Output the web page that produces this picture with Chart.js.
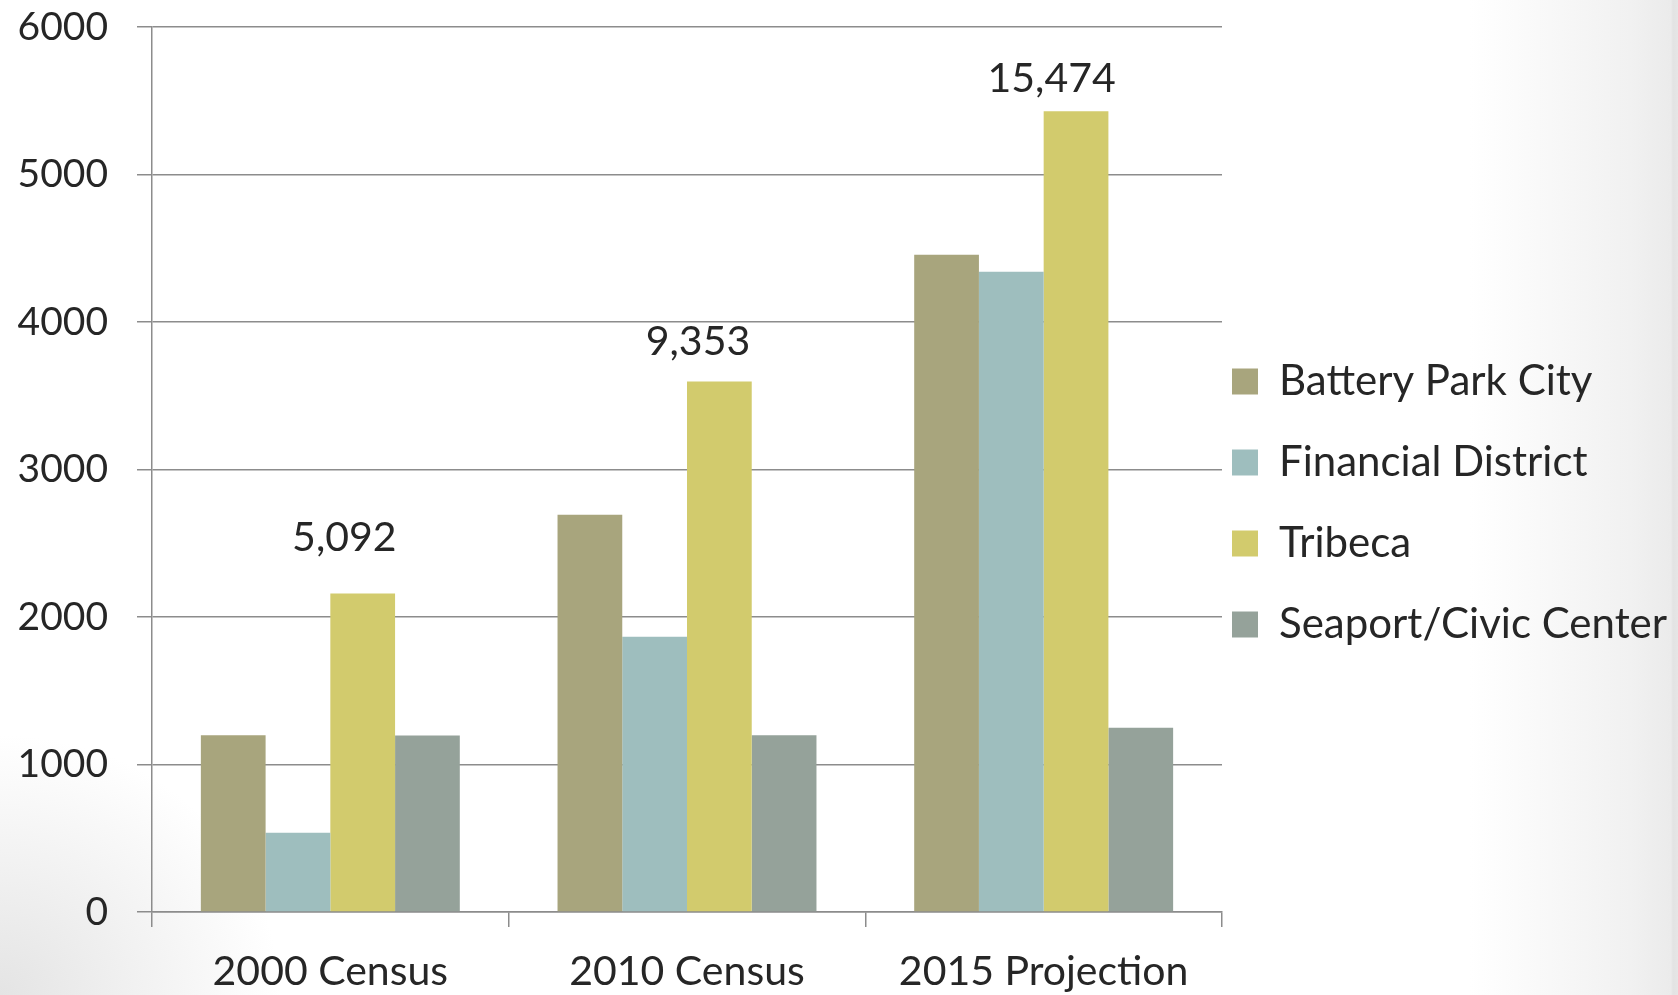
<!DOCTYPE html>
<html>
<head>
<meta charset="utf-8">
<script src="https://cdn.jsdelivr.net/npm/chart.js@4.4.1/dist/chart.umd.min.js"></script>
<style>
html, body { margin: 0; padding: 0; width: 1678px; height: 995px; overflow: hidden; }
body {
  background:
    radial-gradient(ellipse 280px 260px at 0px 995px, rgba(225,225,225,0.9), rgba(255,255,255,0) 100%),
    linear-gradient(to right, #ffffff 0px, #ffffff 1470px, #f1f1f1 1630px, #ebebeb 1671px, #e3e3e3 1673px, #e6e6e6 1678px);
}
#c { position: absolute; left: 0; top: 0; }
</style>
</head>
<body>
<canvas id="c" width="1678" height="995"></canvas>
<script>
// ---- data ----
const categories = ['2000 Census', '2010 Census', '2015 Projection'];
const seriesNames = ['Battery Park City', 'Financial District', 'Tribeca', 'Seaport/Civic Center'];
const batteryParkCity = [1199, 2693, 4456];
const financialDistrict = [537, 1866, 4340];
const tribeca = [2160, 3596, 5428];
const seaportCivicCenter = [1196, 1198, 1250];
const totals = [5092, 9353, 15474];
const yTicks = [0, 1000, 2000, 3000, 4000, 5000, 6000];

// ---- styles ----
const FONT = "Lato, 'Noto Sans', sans-serif";
const TEXT = '#262626';
const GRID = '#8c8c8c';
const colors = ['#a8a57d', '#9ebebe', '#d2cb6d', '#95a29a'];
const seriesValues = [batteryParkCity, financialDistrict, tribeca, seaportCivicCenter];

const totalsPlugin = {
  id: 'totals',
  afterDatasetsDraw(chart, args, opts) {
    const { ctx } = chart;
    const xs = chart.scales.x, ys = chart.scales.y;
    ctx.save();
    ctx.font = opts.size + 'px ' + FONT;
    ctx.fillStyle = opts.color;
    ctx.textAlign = 'center';
    ctx.textBaseline = 'middle';
    totals.forEach((t, i) => {
      const top = Math.max(...chart.data.datasets.map(d => d.data[i]));
      const px = xs.getPixelForValue(i) + opts.dx[i];
      const py = ys.getPixelForValue(top) - opts.dy[i];
      ctx.fillText(t.toLocaleString('en-US'), px, py);
    });
    ctx.restore();
  }
};

const legendShift = {
  id: 'legendShift',
  afterLayout(chart, args, opts) {
    const lg = chart.legend;
    if (!lg) return;
    const dx = chart.chartArea.right + opts.gap - lg.options.labels.padding - lg.left;
    lg.left += dx;
    lg.right = chart.width;
    lg.width = lg.right - lg.left;
    lg.top += opts.dy; lg.bottom += opts.dy;
  }
};

new Chart(document.getElementById('c'), {
  type: 'bar',
  data: {
    labels: categories,
    datasets: seriesNames.map((name, k) => ({
      label: name,
      data: seriesValues[k],
      backgroundColor: colors[k],
      borderWidth: 0,
      barPercentage: 1,
      categoryPercentage: 0.726
    }))
  },
  options: {
    responsive: false,
    animation: false,
    devicePixelRatio: 1,
    layout: { padding: { top: 27, right: 0, bottom: 0, left: 0 } },
    plugins: {
      tooltip: { enabled: false },
      legend: {
        position: 'right',
        align: 'center',
        maxWidth: 456,
        labels: {
          font: { family: FONT, size: 42 },
          color: TEXT,
          boxWidth: 26,
          boxHeight: 26,
          padding: 39
        }
      },
      totals: { size: 41, color: TEXT, dx: [14, 11, 8], dy: [56, 40, 33] },
      legendShift: { gap: 10, dy: -8 }
    },
    scales: {
      x: {
        grid: { drawOnChartArea: false, drawTicks: true, tickLength: 15, color: GRID, lineWidth: 1.5, offset: true },
        border: { color: GRID, width: 1.5 },
        ticks: { font: { family: FONT, size: 41 }, color: TEXT, padding: 20, maxRotation: 0 },
        afterFit: s => { s.height = 83; }
      },
      y: {
        min: yTicks[0],
        max: yTicks[yTicks.length - 1],
        ticks: {
          stepSize: yTicks[1] - yTicks[0],
          font: { family: FONT, size: 39 },
          color: TEXT,
          padding: 29,
          callback: v => String(v)
        },
        grid: { color: GRID, lineWidth: 1.5, tickLength: 15 },
        border: { color: GRID, width: 1.5 },
        afterFit: s => { s.width = 152; s.paddingTop = 20; s.paddingBottom = 20; }
      }
    }
  },
  plugins: [totalsPlugin, legendShift]
});
</script>
</body>
</html>
